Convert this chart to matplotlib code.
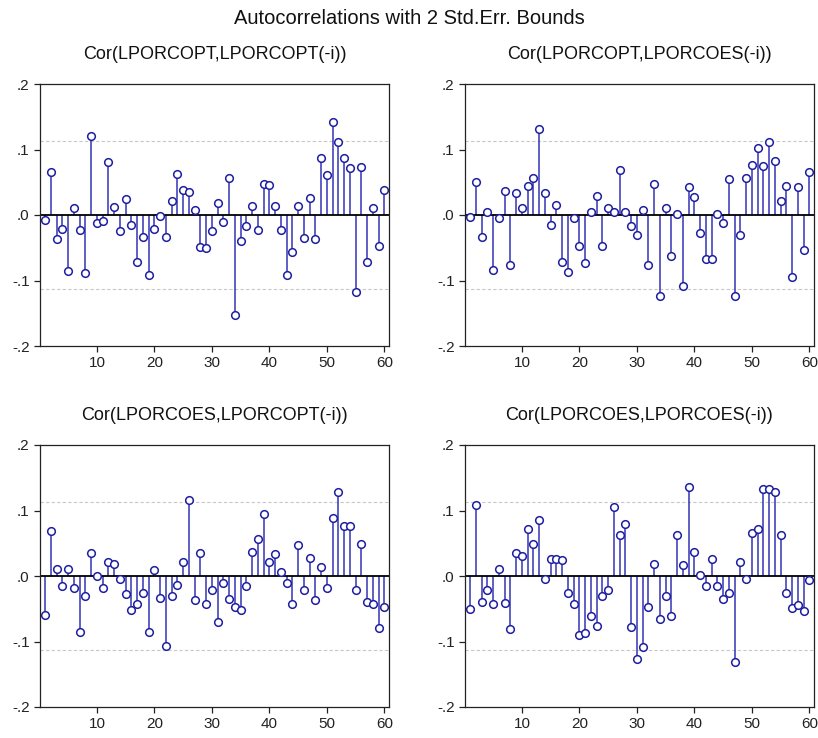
import matplotlib.pyplot as plt
import numpy as np

plt.rcParams['font.family'] = ['Liberation Sans', 'DejaVu Sans']

lags = np.arange(1, 61)
bound = 0.113

titles = ['Cor(LPORCOPT,LPORCOPT(-i))', 'Cor(LPORCOPT,LPORCOES(-i))',
          'Cor(LPORCOES,LPORCOPT(-i))', 'Cor(LPORCOES,LPORCOES(-i))']

opt_opt = [-0.008, 0.066, -0.036, -0.021, -0.086, 0.011, -0.023, -0.088, 0.120, -0.012,
           -0.009, 0.081, 0.012, -0.025, 0.024, -0.015, -0.072, -0.033, -0.091, -0.021,
           -0.001, -0.033, 0.022, 0.063, 0.038, 0.035, 0.007, -0.049, -0.050, -0.025,
           0.018, -0.010, 0.057, -0.152, -0.039, -0.017, 0.014, -0.023, 0.048, 0.046,
           0.014, -0.023, -0.091, -0.056, 0.014, -0.035, 0.026, -0.037, 0.087, 0.061,
           0.142, 0.111, 0.087, 0.072, -0.118, 0.074, -0.071, 0.011, -0.048, 0.038]

opt_es = [-0.003, 0.050, -0.034, 0.004, -0.084, -0.004, 0.037, -0.076, 0.033, 0.011,
          0.044, 0.057, 0.131, 0.033, -0.015, 0.016, -0.071, -0.087, -0.004, -0.047,
          -0.073, 0.005, 0.029, -0.047, 0.011, 0.005, 0.068, 0.005, -0.017, -0.030,
          0.007, -0.076, 0.048, -0.123, 0.011, -0.063, 0.002, -0.108, 0.042, 0.028,
          -0.027, -0.067, -0.067, 0.002, -0.012, 0.055, -0.124, -0.030, 0.057, 0.077,
          0.102, 0.075, 0.111, 0.082, 0.022, 0.044, -0.095, 0.042, -0.054, 0.066]

es_opt = [-0.059, 0.068, 0.011, -0.016, 0.011, -0.018, -0.086, -0.031, 0.035, 0.000,
          -0.018, 0.022, 0.019, -0.004, -0.028, -0.052, -0.042, -0.026, -0.086, 0.009,
          -0.033, -0.107, -0.030, -0.013, 0.022, 0.116, -0.037, 0.035, -0.042, -0.022,
          -0.070, -0.011, -0.035, -0.048, -0.052, -0.016, 0.037, 0.057, 0.095, 0.022,
          0.033, 0.006, -0.011, -0.042, 0.048, -0.022, 0.028, -0.037, 0.013, -0.018,
          0.088, 0.129, 0.076, 0.076, -0.022, 0.049, -0.039, -0.042, -0.079, -0.048]

es_es = [-0.050, 0.109, -0.039, -0.022, -0.042, 0.011, -0.041, -0.081, 0.035, 0.030,
         0.072, 0.049, 0.085, -0.004, 0.026, 0.026, 0.024, -0.026, -0.042, -0.090,
         -0.087, -0.061, -0.076, -0.031, -0.022, 0.105, 0.063, 0.079, -0.078, -0.126,
         -0.109, -0.048, 0.018, -0.066, -0.030, -0.061, 0.063, 0.017, 0.136, 0.037,
         0.002, -0.016, 0.026, -0.016, -0.035, -0.026, -0.131, 0.022, -0.004, 0.066,
         0.072, 0.133, 0.133, 0.129, 0.063, -0.026, -0.049, -0.044, -0.054, -0.006]

series = [opt_opt, opt_es, es_opt, es_es]

W, H = 818, 738
fig = plt.figure(figsize=(W / 100, H / 100), dpi=100)

# axes boxes in pixels: left, top, right, bottom
boxes = [(40, 84, 389, 346), (465, 84, 814, 346),
         (40, 445, 389, 707), (465, 445, 814, 707)]

stem_col = '#3434b4'
for box, vals, title in zip(boxes, series, titles):
    l, t, r, b = box
    ax = fig.add_axes([l / W, 1 - b / H, (r - l) / W, (b - t) / H])
    ax.axhline(bound, color='#c8c8c8', lw=0.8, ls=(0, (3, 2)))
    ax.axhline(-bound, color='#c8c8c8', lw=0.8, ls=(0, (3, 2)))
    ax.vlines(lags, 0, vals, color=stem_col, lw=1.1)
    ax.axhline(0, color='black', lw=1.3)
    ax.plot(lags, vals, 'o', ms=5.5, mfc='white', mec='#1e1ea0', mew=1.1)
    ax.set_xlim(0.1, 60.8)
    ax.set_ylim(-0.2, 0.2)
    ax.set_xticks([10, 20, 30, 40, 50, 60])
    ax.set_yticks([-0.2, -0.1, 0.0, 0.1, 0.2])
    ax.set_yticklabels(['-.2', '-.1', '.0', '.1', '.2'])
    ax.tick_params(direction='out', length=4, width=0.9, labelsize=11, colors='#222222')
    for s in ax.spines.values():
        s.set_color('#222222')
        s.set_linewidth(0.9)
    ax.set_title(title, fontsize=13, pad=18, color='#111111')

fig.text(0.5, 1 - 18 / H, 'Autocorrelations with 2 Std.Err. Bounds',
         ha='center', va='center', fontsize=14.5, color='#111111')

fig.savefig('out.png', dpi=100, facecolor='white')
